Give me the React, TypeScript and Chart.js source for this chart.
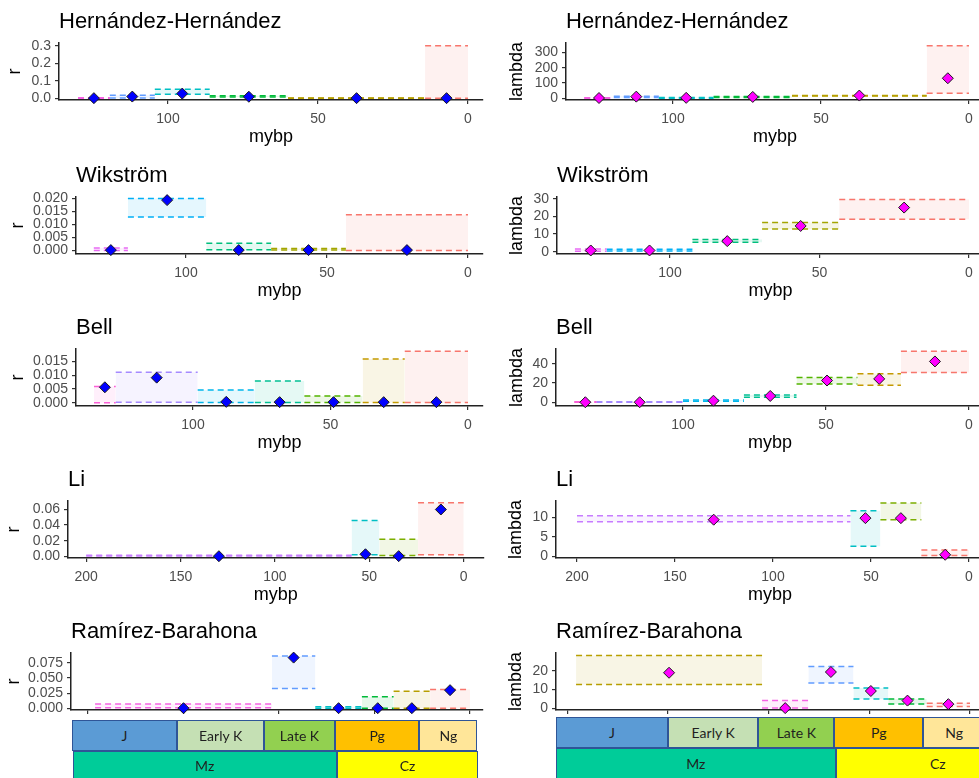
import React, { useEffect, useRef } from "react";
import { Chart, registerables } from "chart.js";
Chart.register(...registerables);

const FONT = "'Liberation Sans', Arial, Helvetica, sans-serif";

// ---------------- DATA ----------------
// Hernández-Hernández
const hhAgesR = [130, 119.4, 104.4, 86.1, 60, 14.3, 0];
const hhRLow = [0.0, 0.002, 0.023, 0.007, 0.0, 0.001];
const hhRHigh = [0.003, 0.017, 0.052, 0.014, 0.002, 0.3];
const hhR = [0.001, 0.01, 0.027, 0.009, 0.001, 0.001];
const hhAgesL = [130, 120, 104.8, 86.3, 59.8, 14.3, 0];
const hhLambdaLow = [0, 5, 0, 5, 15, 33];
const hhLambdaHigh = [3, 14, 5, 12, 19, 343];
const hhLambda = [2, 11, 3, 9, 18, 131];

// Wikström
const wkAgesR = [132.7, 120.6, 92.8, 69.8, 43.3, 0];
const wkRLow = [0.0, 0.0129, 0.0003, 0.0002, 0.0];
const wkRHigh = [0.001, 0.02, 0.0028, 0.0008, 0.0138];
const wkR = [0.0002, 0.0194, 0.0002, 0.0002, 0.0002];
const wkAgesL = [131.8, 121.2, 92.5, 69.2, 43.4, 0];
const wkLambdaLow = [0.3, 0.4, 5.4, 12.8, 18.4];
const wkLambdaHigh = [1.5, 1.4, 6.9, 16.5, 29.6];
const wkLambda = [0.7, 0.7, 6.0, 14.6, 25.0];

// Bell
const blAgesR = [136, 128.1, 98.3, 77.5, 59.5, 38.3, 23, 0];
const blRLow = [0.0, 0.0002, 0.0001, 0.0001, 0.0001, 0.0001, 0.0001];
const blRHigh = [0.0059, 0.0111, 0.0046, 0.0079, 0.0024, 0.0159, 0.0187];
const blR = [0.0056, 0.0091, 0.0003, 0.0002, 0.0002, 0.0002, 0.0002];
const blAgesL = [138, 130.3, 100, 78.7, 60.3, 39, 23.8, 0];
const blLambdaLow = [0, 0.1, 1.0, 5.2, 19.1, 17.7, 31];
const blLambdaHigh = [0.5, 0.6, 2.5, 7.6, 25.7, 29.6, 52.9];
const blLambda = [0.1, 0.1, 1.7, 6.6, 22.6, 24.3, 42.4];

// Li
const liAgesR = [200, 59.4, 44.7, 24.2, 0];
const liRLow = [0.0005, 0.002, 0.0009, 0.002];
const liRHigh = [0.0012, 0.046, 0.0217, 0.0687];
const liR = [0.0001, 0.0026, 0.0002, 0.06];
const liAgesL = [200, 60.5, 45.2, 24.3, 0];
const liLambdaLow = [8.9, 2.6, 9.4, 0.2];
const liLambdaHigh = [10.4, 11.7, 13.7, 1.6];
const liLambda = [9.4, 9.8, 9.8, 0.4];

// Ramírez-Barahona
const rbAgesR = [196.3, 103.7, 81, 56.6, 40, 20.9, 0];
const rbRLow = [0.001, 0.0328, 0.0003, 0.0003, 0.0003, 0.0003];
const rbRHigh = [0.0071, 0.0864, 0.0027, 0.0191, 0.0284, 0.0312];
const rbR = [0.0003, 0.0837, 0.0003, 0.0003, 0.0003, 0.03];
const rbAgesL = [195.7, 103.3, 80.3, 57.9, 40.6, 21.5, 0];
const rbLambdaLow = [12.6, 0.2, 13.5, 5.0, 2.3, 0.9];
const rbLambdaHigh = [28.1, 4.1, 22.2, 10.8, 5.0, 2.7];
const rbLambda = [18.9, 0.1, 19.3, 9.2, 4.1, 2.2];

// Tick labels
const xTicks3 = [0, 50, 100];
const xTicks5 = [0, 50, 100, 150, 200];
const hhRTicks = [0, 0.1, 0.2, 0.3];
const hhLambdaTicks = [0, 100, 200, 300];
const wkRTicks = [0, 0.005, 0.01, 0.015, 0.02];
const wkLambdaTicks = [0, 10, 20, 30];
const blRTicks = [0, 0.005, 0.01, 0.015];
const blLambdaTicks = [0, 20, 40];
const liRTicks = [0, 0.02, 0.04, 0.06];
const liLambdaTicks = [0, 5, 10];
const rbRTicks = [0, 0.025, 0.05, 0.075];
const rbLambdaTicks = [0, 10, 20];

// Geologic time scale labels
const periods = ["J", "Early K", "Late K", "Pg", "Ng"];
const eras = ["Mz", "Cz"];

// ---------------- STYLES ----------------
const PAL6 = ["#F564E3", "#619CFF", "#00BFC4", "#00BA38", "#B79F00", "#F8766D"];
const PAL5 = ["#E76BF3", "#00B0F6", "#00BF7D", "#A3A500", "#F8766D"];
const PAL7 = ["#FB61D7", "#A58AFF", "#00B6EB", "#00C094", "#53B400", "#C49A00", "#F8766D"];
const PAL4 = ["#C77CFF", "#00BFC4", "#7CAE00", "#F8766D"];
const PAL6RB = ["#B79F00", "#F564E3", "#619CFF", "#00BFC4", "#00BA38", "#F8766D"];
const periodColors = ["#5B9BD5", "#C5E0B4", "#92D050", "#FFC000", "#FFE699"];
const eraColors = ["#00CC99", "#FFFF00"];

// layout
const CHART_TOPS = [43, 197, 349, 501, 653];
const TITLE_H = 43;
const PLOT_H = 57;
const XAXIS_H = 48;

type Spec = {
  title: string;
  yTitle: string;
  ages: number[];
  low: number[];
  high: number[];
  value: number[];
  colors: string[];
  pointColor: string;
  xTicks: number[];
  yTicks: number[];
  yDigits: number;
  yMin: number;
  yMax: number;
  row: number;
  col: number;
  padLeft: number;
  axisLeft: number;
  axisRight: number;
  zeroPx: number;
  ppu: number;
};

const COL_LEFT = [0, 490];
const COL_W = [490, 504];

function hexA(hex: string, a: number) {
  const n = parseInt(hex.slice(1), 16);
  return `rgba(${(n >> 16) & 255},${(n >> 8) & 255},${n & 255},${a})`;
}

const specs: Spec[] = [
  { title: "Hernández-Hernández", yTitle: "r", ages: hhAgesR, low: hhRLow, high: hhRHigh, value: hhR, colors: PAL6, pointColor: "#0000FF", xTicks: xTicks3, yTicks: hhRTicks, yDigits: 1, yMin: -0.0096, yMax: 0.3155, row: 0, col: 0, padLeft: 4.5, axisLeft: 59, axisRight: 483, zeroPx: 468, ppu: 3.0 },
  { title: "Hernández-Hernández", yTitle: "lambda", ages: hhAgesL, low: hhLambdaLow, high: hhLambdaHigh, value: hhLambda, colors: PAL6, pointColor: "#FF00FF", xTicks: xTicks3, yTicks: hhLambdaTicks, yDigits: 0, yMin: -11, yMax: 361, row: 0, col: 1, padLeft: 16, axisLeft: 566, axisRight: 984, zeroPx: 969, ppu: 2.96 },
  { title: "Wikström", yTitle: "r", ages: wkAgesR, low: wkRLow, high: wkRHigh, value: wkR, colors: PAL5, pointColor: "#0000FF", xTicks: xTicks3, yTicks: wkRTicks, yDigits: 3, yMin: -0.0013, yMax: 0.0206, row: 1, col: 0, padLeft: 7, axisLeft: 76, axisRight: 483, zeroPx: 468, ppu: 2.82 },
  { title: "Wikström", yTitle: "lambda", ages: wkAgesL, low: wkLambdaLow, high: wkLambdaHigh, value: wkLambda, colors: PAL5, pointColor: "#FF00FF", xTicks: xTicks3, yTicks: wkLambdaTicks, yDigits: 0, yMin: -1.3, yMax: 31, row: 1, col: 1, padLeft: 16, axisLeft: 557, axisRight: 984, zeroPx: 969, ppu: 2.99 },
  { title: "Bell", yTitle: "r", ages: blAgesR, low: blRLow, high: blRHigh, value: blR, colors: PAL7, pointColor: "#0000FF", xTicks: xTicks3, yTicks: blRTicks, yDigits: 3, yMin: -0.0012, yMax: 0.0195, row: 2, col: 0, padLeft: 7.5, axisLeft: 76, axisRight: 483, zeroPx: 468, ppu: 2.75 },
  { title: "Bell", yTitle: "lambda", ages: blAgesL, low: blLambdaLow, high: blLambdaHigh, value: blLambda, colors: PAL7, pointColor: "#FF00FF", xTicks: xTicks3, yTicks: blLambdaTicks, yDigits: 0, yMin: -3.8, yMax: 55.3, row: 2, col: 1, padLeft: 16, axisLeft: 556, axisRight: 984, zeroPx: 969, ppu: 2.86 },
  { title: "Li", yTitle: "r", ages: liAgesR, low: liRLow, high: liRHigh, value: liR, colors: PAL4, pointColor: "#0000FF", xTicks: xTicks5, yTicks: liRTicks, yDigits: 2, yMin: -0.0022, yMax: 0.0709, row: 3, col: 0, padLeft: 3, axisLeft: 68, axisRight: 488, zeroPx: 468, ppu: 1.908 },
  { title: "Li", yTitle: "lambda", ages: liAgesL, low: liLambdaLow, high: liLambdaHigh, value: liLambda, colors: PAL4, pointColor: "#FF00FF", xTicks: xTicks5, yTicks: liLambdaTicks, yDigits: 0, yMin: -0.43, yMax: 14.2, row: 3, col: 1, padLeft: 15, axisLeft: 556, axisRight: 984, zeroPx: 969, ppu: 1.96 },
  { title: "Ramírez-Barahona", yTitle: "r", ages: rbAgesR, low: rbRLow, high: rbRHigh, value: rbR, colors: PAL6, pointColor: "#0000FF", xTicks: xTicks5, yTicks: rbRTicks, yDigits: 3, yMin: -0.0027, yMax: 0.0913, row: 4, col: 0, padLeft: 3, axisLeft: 71, axisRight: 483, zeroPx: 470, ppu: 1.91 },
  { title: "Ramírez-Barahona", yTitle: "lambda", ages: rbAgesL, low: rbLambdaLow, high: rbLambdaHigh, value: rbLambda, colors: PAL6RB, pointColor: "#FF00FF", xTicks: xTicks5, yTicks: rbLambdaTicks, yDigits: 0, yMin: -0.9, yMax: 29.4, row: 4, col: 1, padLeft: 15, axisLeft: 556, axisRight: 984, zeroPx: 970, ppu: 2.013 },
];

function Panel({ s }: { s: Spec }) {
  const ref = useRef<HTMLCanvasElement>(null);
  const left = COL_LEFT[s.col];
  const width = COL_W[s.col];
  const top = CHART_TOPS[s.row] - TITLE_H;
  const height = TITLE_H + PLOT_H + XAXIS_H;

  useEffect(() => {
    const canvas = ref.current;
    if (!canvas) return;
    const datasets: any[] = [];
    const mids = s.value.map((_, i) => (s.ages[i] + s.ages[i + 1]) / 2);
    datasets.push({
      type: "scatter",
      data: s.value.map((v, i) => ({ x: mids[i], y: v })),
      pointStyle: "rectRot",
      pointRadius: 5.5,
      pointHoverRadius: 5.5,
      backgroundColor: s.pointColor,
      borderColor: "#1a1a1a",
      borderWidth: 1,
      order: 0,
      clip: false,
    });
    s.value.forEach((_, i) => {
      const col = s.colors[i];
      const x0 = s.ages[i];
      const x1 = s.ages[i + 1];
      datasets.push({
        type: "line",
        data: [{ x: x0, y: s.high[i] }, { x: x1, y: s.high[i] }],
        borderColor: col,
        borderDash: [6, 4],
        borderWidth: 1.5,
        pointRadius: 0,
        fill: "+1",
        backgroundColor: hexA(col, 0.1),
        order: 1,
        clip: false,
      });
      datasets.push({
        type: "line",
        data: [{ x: x0, y: s.low[i] }, { x: x1, y: s.low[i] }],
        borderColor: col,
        borderDash: [6, 4],
        borderWidth: 1.5,
        pointRadius: 0,
        fill: false,
        order: 1,
        clip: false,
      });
    });

    const xMax = (s.zeroPx - s.axisLeft) / s.ppu;
    const xMin = -(s.axisRight - s.zeroPx) / s.ppu;
    const yAxisW = s.axisLeft - left - s.padLeft;

    const chart = new Chart(canvas, {
      type: "line",
      data: { datasets },
      options: {
        animation: false,
        responsive: false,
        devicePixelRatio: 1,
        events: [],
        layout: {
          padding: { left: s.padLeft, right: left + width - s.axisRight, top: 0, bottom: 0 },
        },
        plugins: {
          legend: { display: false },
          tooltip: { enabled: false },
          title: {
            display: true,
            text: s.title,
            align: "start",
            fullSize: false,
            color: "#000000",
            font: { family: FONT, size: 22, weight: "normal", lineHeight: 1.2 },
            padding: { top: 8.8, bottom: 7.8 },
          },
        },
        scales: {
          x: {
            type: "linear",
            reverse: true,
            min: xMin,
            max: xMax,
            afterBuildTicks: (sc: any) => {
              sc.ticks = s.xTicks.map((v) => ({ value: v }));
            },
            afterFit: (sc: any) => {
              sc.height = XAXIS_H;
            },
            grid: { drawOnChartArea: false, drawTicks: true, tickLength: 4, color: "#333333", lineWidth: 1.2 },
            border: { display: true, color: "#222222", width: 1.5 },
            ticks: {
              color: "#4D4D4D",
              font: { family: FONT, size: 14 },
              padding: 7,
              maxRotation: 0,
              autoSkip: false,
              callback: (v: any) => String(v),
            },
            title: { display: true, text: "mybp", color: "#000000", font: { family: FONT, size: 18 }, padding: 0 },
          },
          y: {
            type: "linear",
            min: s.yMin,
            max: s.yMax,
            afterBuildTicks: (sc: any) => {
              sc.ticks = s.yTicks.map((v) => ({ value: v }));
            },
            afterFit: (sc: any) => {
              sc.width = yAxisW;
            },
            grid: { drawOnChartArea: false, drawTicks: true, tickLength: 4, color: "#333333", lineWidth: 1.2 },
            border: { display: true, color: "#222222", width: 1.5 },
            ticks: {
              color: "#4D4D4D",
              font: { family: FONT, size: 14 },
              padding: 4,
              autoSkip: false,
              callback: (v: any) => Number(v).toFixed(s.yDigits),
            },
            title: { display: true, text: s.yTitle, color: "#000000", font: { family: FONT, size: 18 }, padding: 0 },
          },
        },
      } as any,
    });
    return () => chart.destroy();
  }, []);

  return (
    <canvas
      ref={ref}
      width={width}
      height={height}
      style={{ position: "absolute", left, top, width, height }}
    />
  );
}

// time-scale strip layout (pixel edges of the pasted schematic)
const stripLayout = [
  {
    periodTop: 720, periodBottom: 750.5, eraTop: 750.5, eraBottom: 781,
    periodEdges: [71.7, 177.3, 264, 335, 419.3, 477.3],
    eraEdges: [72.7, 336.7, 478.3],
  },
  {
    periodTop: 716.7, periodBottom: 748, eraTop: 748, eraBottom: 779,
    periodEdges: [556, 668, 758.3, 834.3, 923.3, 985],
    eraEdges: [556, 835.7, 1040],
  },
];

function Box({ x0, x1, y0, y1, bg, label }: any) {
  return (
    <div
      style={{
        position: "absolute",
        left: x0,
        top: y0,
        width: x1 - x0,
        height: y1 - y0,
        background: bg,
        border: "1.5px solid #2F5597",
        boxSizing: "border-box",
        display: "flex",
        alignItems: "center",
        justifyContent: "center",
        fontFamily: "Lato, 'Open Sans', sans-serif",
        fontSize: 14,
        color: "#1f1f1f",
      }}
    >
      {label}
    </div>
  );
}

function Strip({ L }: { L: (typeof stripLayout)[number] }) {
  return (
    <>
      {periods.map((p, i) => (
        <Box key={p} x0={L.periodEdges[i]} x1={L.periodEdges[i + 1]} y0={L.periodTop} y1={L.periodBottom} bg={periodColors[i]} label={p} />
      ))}
      {eras.map((e, i) => (
        <Box key={e} x0={L.eraEdges[i]} x1={L.eraEdges[i + 1]} y0={L.eraTop} y1={L.eraBottom} bg={eraColors[i]} label={e} />
      ))}
    </>
  );
}

export default function App() {
  return (
    <div
      style={{
        position: "fixed",
        left: 0,
        top: 0,
        width: 979,
        height: 778,
        overflow: "hidden",
        background: "#ffffff",
      }}
    >
      {specs.map((s, i) => (
        <Panel key={i} s={s} />
      ))}
      <Strip L={stripLayout[0]} />
      <Strip L={stripLayout[1]} />
    </div>
  );
}
